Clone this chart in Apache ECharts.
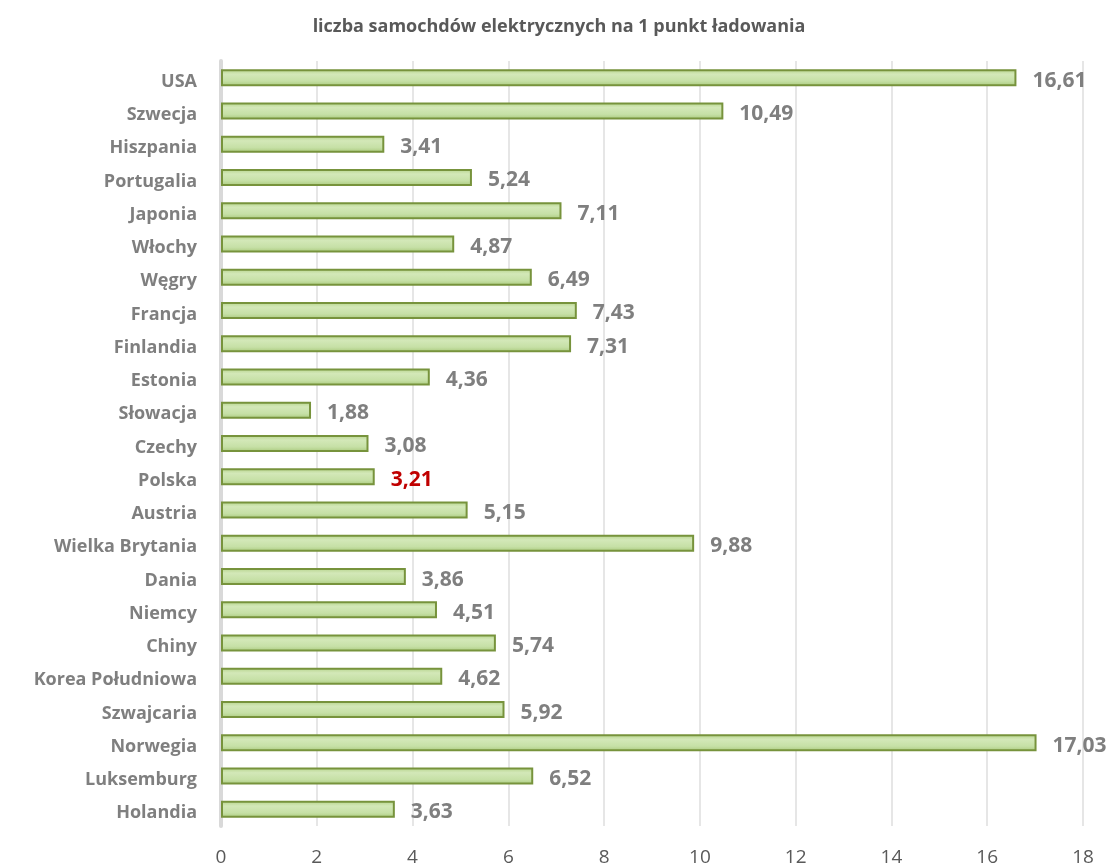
<!DOCTYPE html>
<html>
<head>
<meta charset="utf-8">
<script src="https://cdn.jsdelivr.net/npm/echarts@6/dist/echarts.min.js"></script>
<style>
  html, body { margin: 0; padding: 0; background: #fff; }
  #chart { width: 1118px; height: 867px; }
</style>
</head>
<body>
<div id="chart"></div>
<script>
// kraje (od góry do dołu)
var countries = ['USA', 'Szwecja', 'Hiszpania', 'Portugalia', 'Japonia', 'Włochy', 'Węgry', 'Francja',
    'Finlandia', 'Estonia', 'Słowacja', 'Czechy', 'Polska', 'Austria', 'Wielka Brytania', 'Dania',
    'Niemcy', 'Chiny', 'Korea Południowa', 'Szwajcaria', 'Norwegia', 'Luksemburg', 'Holandia'];
// liczba samochodów na punkt
var carsPerPoint = [16.61, 10.49, 3.41, 5.24, 7.11, 4.87, 6.49, 7.43, 7.31, 4.36, 1.88, 3.08, 3.21,
    5.15, 9.88, 3.86, 4.51, 5.74, 4.62, 5.92, 17.03, 6.52, 3.63];
var xTicks = [0, 2, 4, 6, 8, 10, 12, 14, 16, 18];
var highlight = 'Polska';

(function() {
    var myechart = echarts.init(document.getElementById('chart'));
    var fontName = '"Open Sans", sans-serif';

    var data = carsPerPoint.map(function(v, i) {
        var item = { value: v };
        if (countries[i] === highlight) {
            item.label = { rich: { v: { color: '#c00000' } } };
        }
        return item;
    });

    var option = {
        animation: false,
        title: {
            text: 'liczba samochdów elektrycznych na 1 punkt ładowania',
            left: 'center',
            top: 13,
            textStyle: {
                fontFamily: fontName,
                fontSize: 18,
                fontWeight: 'bold',
                color: '#595959'
            }
        },
        grid: {
            left: 221,
            right: 35,
            top: 61,
            bottom: 40,
            containLabel: false
        },
        xAxis: {
            type: 'value',
            min: xTicks[0],
            max: xTicks[xTicks.length - 1],
            interval: 2,
            axisLine: { show: false },
            axisTick: { show: false },
            axisLabel: {
                margin: 22,
                fontFamily: fontName,
                fontSize: 19,
                color: '#595959'
            },
            splitLine: { lineStyle: { color: '#e6e6e6', width: 2 } }
        },
        yAxis: {
            type: 'category',
            data: countries,
            inverse: true,
            axisLine: { show: true, lineStyle: { color: '#d9d9d9', width: 4 } },
            axisTick: { show: false },
            axisLabel: {
                margin: 24,
                formatter: function(v) {
                    return '{c|' + v + '}';
                },
                rich: {
                    c: {
                        fontFamily: fontName,
                        fontSize: 18,
                        fontWeight: 'bold',
                        color: '#7f7f7f',
                        padding: [8, 0, 0, 0]
                    }
                }
            }
        },
        series: [{
            type: 'bar',
            data: data,
            barWidth: 17,
            itemStyle: {
                color: {
                    type: 'linear', x: 0, y: 0, x2: 0, y2: 1,
                    colorStops: [
                        { offset: 0, color: '#b5d38a' },
                        { offset: 0.3, color: '#d3e8b8' },
                        { offset: 0.7, color: '#c6e0a6' },
                        { offset: 1, color: '#a9c97c' }
                    ]
                },
                borderColor: '#77933c',
                borderWidth: 2
            },
            label: {
                show: true,
                position: 'right',
                distance: 16,
                formatter: function(p) {
                    return '{v|' + p.value.toFixed(2).replace('.', ',') + '}';
                },
                rich: {
                    v: {
                        fontFamily: fontName,
                        fontSize: 21,
                        fontWeight: 'bold',
                        color: '#7f7f7f',
                        padding: [6, 0, 0, 0]
                    }
                }
            }
        }]
    };
    myechart.setOption(option);
})();
</script>
</body>
</html>
